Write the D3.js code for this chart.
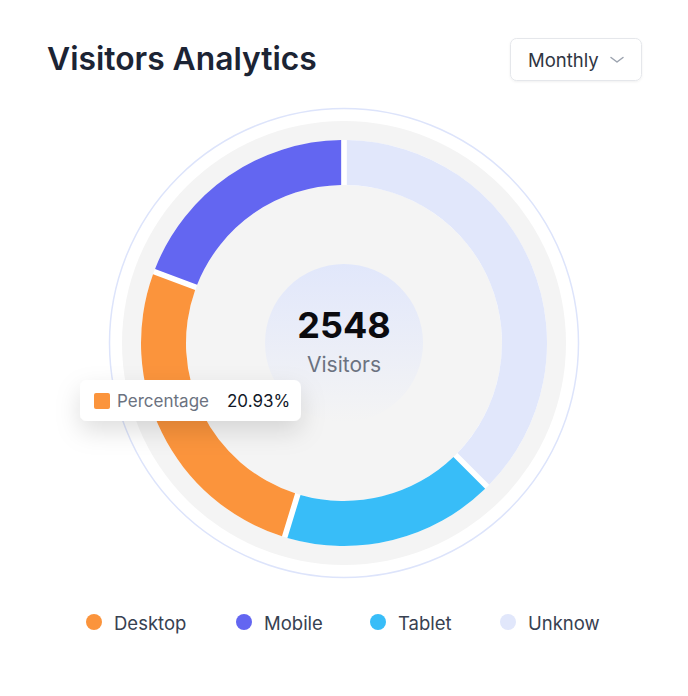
<!DOCTYPE html>
<html>
<head>
<meta charset="utf-8">
<script src="https://cdn.jsdelivr.net/npm/d3@7"></script>
<style>
  html, body { margin: 0; padding: 0; background: #fff; }
  svg { display: block; font-family: Inter, "Noto Sans", sans-serif; }
</style>
</head>
<body>
<svg id="chart" width="688" height="696"></svg>
<script>
// legend order
var categories = ["Desktop", "Mobile", "Tablet", "Unknow"];
var visitors = [663, 489, 435, 961];
var colors = ["#fb943c", "#6366f1", "#38bdf8", "#e1e7fb"];
// order the slices run clockwise from 12 o'clock
var arcOrder = ["Unknow", "Tablet", "Desktop", "Mobile"];

var totalLabel = "2548";
var tooltipName = "Percentage";
var tooltipValue = "20.93%";
var periodLabel = "Monthly";

var svg = d3.select("#chart");
var cx = 344, cy = 343;

var defs = svg.append("defs");
var grad = defs.append("linearGradient").attr("id", "centerGrad")
  .attr("x1", 0).attr("y1", 0).attr("x2", 0).attr("y2", 1);
grad.append("stop").attr("offset", "0%").attr("stop-color", "#e1e7fb");
grad.append("stop").attr("offset", "100%").attr("stop-color", "#f4f4f4");

var shadow = defs.append("filter").attr("id", "tipShadow")
  .attr("x", "-30%").attr("y", "-60%").attr("width", "160%").attr("height", "260%");
shadow.append("feDropShadow").attr("dx", 0).attr("dy", 10)
  .attr("stdDeviation", 12).attr("flood-color", "#000").attr("flood-opacity", 0.13);

var btnShadow = defs.append("filter").attr("id", "btnShadow")
  .attr("x", "-10%").attr("y", "-20%").attr("width", "120%").attr("height", "150%");
btnShadow.append("feDropShadow").attr("dx", 0).attr("dy", 1)
  .attr("stdDeviation", 1).attr("flood-color", "#000").attr("flood-opacity", 0.06);

// header
svg.append("text")
  .attr("x", 47).attr("y", 70)
  .attr("font-size", 31.8).attr("font-weight", 600)
  .attr("fill", "#1c2434")
  .text("Visitors Analytics");

var btn = svg.append("g");
btn.append("rect")
  .attr("x", 510.5).attr("y", 38.5).attr("width", 131).attr("height", 42).attr("rx", 6)
  .attr("fill", "#fff").attr("stroke", "#e5e7eb").attr("filter", "url(#btnShadow)");
btn.append("text")
  .attr("x", 528).attr("y", 67)
  .attr("font-size", 18.5).attr("fill", "#2f3542")
  .text(periodLabel);
btn.append("path")
  .attr("d", "M611,57.5 L617,62 L623,57.5")
  .attr("fill", "none").attr("stroke", "#9ca3af").attr("stroke-width", 1.5)
  .attr("stroke-linecap", "round").attr("stroke-linejoin", "round");

// rings behind the donut
var g = svg.append("g").attr("transform", "translate(" + cx + "," + cy + ")");
g.append("circle").attr("r", 234.5).attr("fill", "none")
  .attr("stroke", "#dde4fb").attr("stroke-width", 1.5);
g.append("circle").attr("r", 222).attr("fill", "#f4f4f4");

var inner = 158, outer = 203;
var arc = d3.arc().innerRadius(inner).outerRadius(outer);

// white band so the gaps between slices read as white
g.append("path")
  .attr("d", arc({ startAngle: 0, endAngle: 2 * Math.PI }))
  .attr("fill", "#fff");

var data = arcOrder.map(function(name) {
  var i = categories.indexOf(name);
  return { name: name, value: visitors[i], color: colors[i] };
});

var pie = d3.pie().sort(null).value(function(d) { return d.value; }).padAngle(0.022);

g.selectAll("path.slice").data(pie(data)).enter().append("path")
  .attr("class", "slice")
  .attr("d", arc)
  .attr("fill", function(d) { return d.data.color; });

g.append("circle").attr("r", 79).attr("fill", "url(#centerGrad)");

g.append("text")
  .attr("y", -5).attr("text-anchor", "middle")
  .attr("font-size", 36).attr("font-weight", 700).attr("fill", "#0b0b0f")
  .text(totalLabel);
g.append("text")
  .attr("y", 29).attr("text-anchor", "middle")
  .attr("font-size", 21).attr("fill", "#6b7280")
  .text("Visitors");

// tooltip
var tip = svg.append("g");
tip.append("rect")
  .attr("x", 80).attr("y", 380).attr("width", 221).attr("height", 41).attr("rx", 7)
  .attr("fill", "#fff").attr("filter", "url(#tipShadow)");
tip.append("rect")
  .attr("x", 94).attr("y", 393).attr("width", 16).attr("height", 16).attr("rx", 2)
  .attr("fill", colors[categories.indexOf("Desktop")]);
tip.append("text")
  .attr("x", 117).attr("y", 407)
  .attr("font-size", 17).attr("fill", "#6b7280")
  .text(tooltipName);
tip.append("text")
  .attr("x", 227).attr("y", 407)
  .attr("font-size", 17).attr("fill", "#111827")
  .text(tooltipValue);

// legend (spacing follows label widths, so positions are per item)
var legendPos = { Desktop: 94, Mobile: 244, Tablet: 378, Unknow: 508 };
var leg = svg.append("g").selectAll("g").data(categories).enter().append("g")
  .attr("transform", function(d) { return "translate(" + legendPos[d] + ",622)"; });
leg.append("circle").attr("r", 8)
  .attr("fill", function(d, i) { return colors[i]; });
leg.append("text")
  .attr("x", 20).attr("y", 7.5)
  .attr("font-size", 18.5).attr("fill", "#374151")
  .text(function(d) { return d; });
</script>
</body>
</html>
